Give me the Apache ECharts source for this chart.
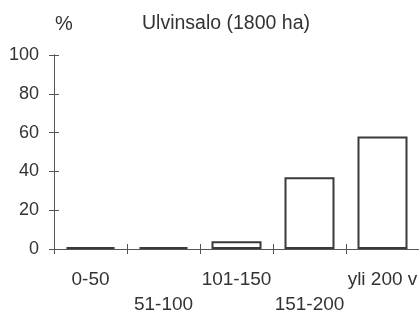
<!DOCTYPE html>
<html>
<head>
<meta charset="utf-8">
<script src="https://cdn.jsdelivr.net/npm/echarts@6/dist/echarts.min.js"></script>
<style>
  html, body { margin: 0; padding: 0; background: #fff; }
  #chart { width: 419px; height: 315px; }
</style>
</head>
<body>
<div id="chart"></div>
<script>
// ikäluokat ja osuudet (%)
const categories = ['0-50', '51-100', '101-150', '151-200', 'yli 200 v'];
const shares = [1, 1, 4, 37, 58];
const yTicks = { min: 0, max: 100, step: 20 };

const font = 'Liberation Sans, Arial, sans-serif';
const ink = '#333';
const axisGray = '#555';

const chart = echarts.init(document.getElementById('chart'));

// akselin tikit menee viivan molemmin puolin -> kaksi akselia päällekkäin
const xBase = {
  type: 'category',
  data: categories,
  position: 'bottom',
  boundaryGap: true,
  axisLine: { show: true, lineStyle: { color: axisGray, width: 1 } },
  splitLine: { show: false }
};
const yBase = {
  type: 'value',
  min: yTicks.min,
  max: yTicks.max,
  interval: yTicks.step,
  position: 'left',
  axisLine: { show: true, lineStyle: { color: axisGray, width: 1 } },
  splitLine: { show: false }
};

chart.setOption({
  animation: false,
  title: [
    {
      text: 'Ulvinsalo (1800 ha)',
      left: 137,
      top: 9,
      textStyle: { fontFamily: font, fontSize: 19.5, fontWeight: 'normal', color: ink }
    },
    {
      text: '%',
      left: 50,
      top: 9,
      textStyle: { fontFamily: font, fontSize: 20, fontWeight: 'normal', color: ink }
    }
  ],
  grid: { left: 54, right: 0, top: 55, bottom: 66, containLabel: false, outerBoundsMode: 'none' },
  xAxis: [
    Object.assign({}, xBase, {
      axisTick: { show: true, inside: false, length: 5, lineStyle: { color: axisGray } },
      axisLabel: {
        interval: 0,
        margin: 18,
        fontFamily: font,
        fontSize: 19,
        color: ink,
        lineHeight: 25,
        formatter: (v, i) => (i % 2 ? '\n' + v : v)
      }
    }),
    Object.assign({}, xBase, {
      axisTick: { show: true, inside: true, length: 5, lineStyle: { color: axisGray } },
      axisLabel: { show: false }
    })
  ],
  yAxis: [
    Object.assign({}, yBase, {
      axisTick: { show: true, inside: false, length: 5, lineStyle: { color: axisGray } },
      axisLabel: { margin: 15, fontFamily: font, fontSize: 18, color: ink }
    }),
    Object.assign({}, yBase, {
      axisTick: { show: true, inside: true, length: 5, lineStyle: { color: axisGray } },
      axisLabel: { show: false }
    })
  ],
  series: [
    {
      type: 'bar',
      data: shares,
      barWidth: 50,
      itemStyle: { color: '#fff', borderColor: '#3a3a3a', borderWidth: 2 }
    }
  ]
});
</script>
</body>
</html>
